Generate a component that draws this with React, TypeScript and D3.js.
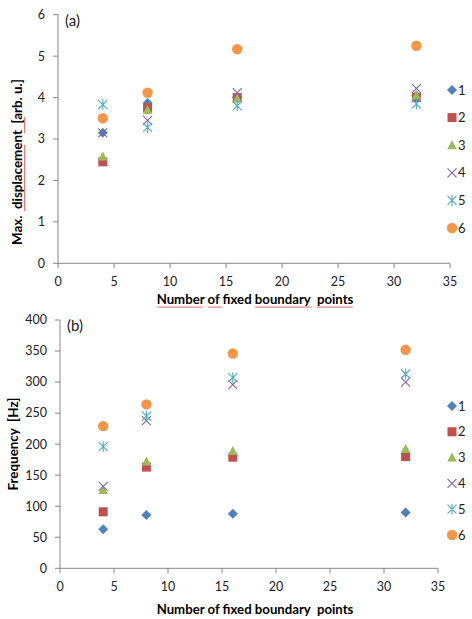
import React, { useEffect, useRef } from 'react';
import * as d3 from 'd3';

// x positions (number of fixed boundary points)
const xValues = [4, 8, 16, 32];
const seriesNames = ['1', '2', '3', '4', '5', '6'];
const seriesColors = ['#4F81BD', '#C0504D', '#9BBB59', '#8064A2', '#4BACC6', '#F79646'];
const seriesShapes = ['diamond', 'square', 'triangle', 'x', 'star', 'circle'];

// (a) max displacement [arb. u.]
const dispS1 = [3.15, 3.87, 4.0, 4.05];
const dispS2 = [2.45, 3.75, 4.0, 4.0];
const dispS3 = [2.58, 3.7, 3.97, 4.05];
const dispS4 = [3.15, 3.45, 4.12, 4.22];
const dispS5 = [3.83, 3.28, 3.8, 3.85];
const dispS6 = [3.5, 4.12, 5.17, 5.25];

// (b) frequency [Hz]
const freqS1 = [63, 86, 88, 90];
const freqS2 = [91, 163, 179, 180];
const freqS3 = [126, 172, 189, 192];
const freqS4 = [132, 238, 296, 300];
const freqS5 = [196, 245, 307, 313];
const freqS6 = [229, 264, 346, 352];

const xTicks = [0, 5, 10, 15, 20, 25, 30, 35];
const dispTicks = [0, 1, 2, 3, 4, 5, 6];
const freqTicks = [0, 50, 100, 150, 200, 250, 300, 350, 400];

const FONT = 'Lato, "Noto Sans", sans-serif';
const AXIS_COLOR = '#868686';

type Panel = {
  label: string;
  yTitle: string;
  series: number[][];
  yTicks: number[];
  yMax: number;
  left: number;
  right: number;
  top: number;
  bottom: number;
  tickY: number;
  titleY: number;
  yTitleX: number;
  yTitleMid: number;
  legendX: number;
  legendTop: number;
  legendStep: number;
  spellMarks: boolean;
};

type G = d3.Selection<SVGGElement, unknown, null, undefined>;

function drawMarker(g: G, shape: string, color: string, cx: number, cy: number) {
  if (shape === 'diamond') {
    const r = 5;
    g.append('path').attr('d', `M${cx},${cy - r}L${cx + r},${cy}L${cx},${cy + r}L${cx - r},${cy}Z`).attr('fill', color);
  } else if (shape === 'square') {
    g.append('rect').attr('x', cx - 4.5).attr('y', cy - 4.5).attr('width', 9).attr('height', 9).attr('fill', color);
  } else if (shape === 'triangle') {
    g.append('path').attr('d', `M${cx},${cy - 5}L${cx + 4.8},${cy + 4}L${cx - 4.8},${cy + 4}Z`).attr('fill', color);
  } else if (shape === 'x') {
    const r = 4.5;
    g.append('path').attr('d', `M${cx - r},${cy - r}L${cx + r},${cy + r}M${cx - r},${cy + r}L${cx + r},${cy - r}`)
      .attr('stroke', color).attr('stroke-width', 1.1).attr('fill', 'none');
  } else if (shape === 'star') {
    const r = 4.5;
    g.append('path').attr('d', `M${cx - r},${cy - r}L${cx + r},${cy + r}M${cx - r},${cy + r}L${cx + r},${cy - r}M${cx},${cy - r - 1}L${cx},${cy + r + 1}`)
      .attr('stroke', color).attr('stroke-width', 1.1).attr('fill', 'none');
  } else {
    g.append('circle').attr('cx', cx).attr('cy', cy).attr('r', 5.2).attr('fill', color);
  }
}

// red spell-check squiggle, horizontal or vertical
function squiggle(g: G, a0: number, a1: number, at: number, vertical = false) {
  let d = vertical ? `M${at},${a0}` : `M${a0},${at}`;
  for (let a = a0; a < a1; a += 2) {
    d += vertical ? `L${at + 1.2},${a + 1}L${at},${a + 2}` : `L${a + 1},${at + 1.2}L${a + 2},${at}`;
  }
  g.append('path').attr('d', d).attr('fill', 'none').attr('stroke', '#e03030').attr('stroke-width', 0.7);
}

function drawPanel(root: d3.Selection<SVGSVGElement, unknown, null, undefined>, p: Panel) {
  const g = root.append('g');
  const x = d3.scaleLinear().domain([0, 35]).range([p.left, p.right]);
  const y = d3.scaleLinear().domain([0, p.yMax]).range([p.bottom, p.top]);

  // axes lines
  g.append('line').attr('x1', p.left).attr('x2', p.left).attr('y1', p.top).attr('y2', p.bottom)
    .attr('stroke', AXIS_COLOR).attr('stroke-width', 1);
  g.append('line').attr('x1', p.left).attr('x2', p.right).attr('y1', p.bottom).attr('y2', p.bottom)
    .attr('stroke', AXIS_COLOR).attr('stroke-width', 1);

  // y ticks
  p.yTicks.forEach(t => {
    g.append('line').attr('x1', p.left - 5).attr('x2', p.left).attr('y1', y(t)).attr('y2', y(t))
      .attr('stroke', AXIS_COLOR);
    g.append('text').attr('x', p.left - 13).attr('y', y(t)).attr('dy', '0.35em')
      .attr('text-anchor', 'end').attr('font-family', FONT).attr('font-size', 12.5).attr('fill', '#222')
      .text(t);
  });

  // x ticks
  xTicks.forEach(t => {
    g.append('line').attr('x1', x(t)).attr('x2', x(t)).attr('y1', p.bottom).attr('y2', p.bottom + 5)
      .attr('stroke', AXIS_COLOR);
    g.append('text').attr('x', x(t)).attr('y', p.tickY).attr('dy', '0.35em')
      .attr('text-anchor', 'middle').attr('font-family', FONT).attr('font-size', 12.5).attr('fill', '#222')
      .text(t);
  });

  // titles
  g.append('text').attr('x', 255).attr('y', p.titleY).attr('dy', '0.35em')
    .attr('text-anchor', 'middle').attr('font-family', FONT).attr('font-size', 13.2).attr('font-weight', 'bold')
    .style('white-space', 'pre')
    .text('Number of fixed boundary  points');
  g.append('text').attr('transform', `translate(${p.yTitleX},${p.yTitleMid}) rotate(-90)`).attr('dy', '0.35em')
    .attr('text-anchor', 'middle').attr('font-family', FONT).attr('font-size', 13.4).attr('font-weight', 'bold')
    .style('white-space', 'pre')
    .text(p.yTitle);

  if (p.spellMarks) {
    const sy = p.titleY + 7;
    squiggle(g, 157, 203, sy);
    squiggle(g, 208, 222, sy);
    squiggle(g, 255, 310, sy);
    squiggle(g, 317, 353, sy);
    squiggle(g, 145, 210, p.yTitleX + 7, true);
    squiggle(g, 117, 132, p.yTitleX + 7, true);
  }

  // panel label
  g.append('text').attr('x', p.left + 7).attr('y', p.top + 6).attr('dy', '0.35em')
    .attr('font-family', FONT).attr('font-size', 15).attr('fill', '#222').text(p.label);

  // points
  p.series.forEach((vals, si) => {
    vals.forEach((v, i) => drawMarker(g, seriesShapes[si], seriesColors[si], x(xValues[i]), y(v)));
  });

  // legend
  seriesNames.forEach((name, si) => {
    const ly = p.legendTop + si * p.legendStep;
    drawMarker(g, seriesShapes[si], seriesColors[si], p.legendX, ly);
    g.append('text').attr('x', p.legendX + 6).attr('y', ly).attr('dy', '0.35em')
      .attr('font-family', FONT).attr('font-size', 13).attr('fill', '#222').text(name);
  });
}

const App: React.FC = () => {
  const svgRef = useRef<SVGSVGElement>(null);

  useEffect(() => {
    if (!svgRef.current) return;
    const svg = d3.select(svgRef.current);
    svg.selectAll('*').remove();
    svg.append('rect').attr('width', 472).attr('height', 619).attr('fill', '#fff');

    drawPanel(svg, {
      label: '(a)', yTitle: 'Max.  displacement  [arb. u.]',
      series: [dispS1, dispS2, dispS3, dispS4, dispS5, dispS6],
      yTicks: dispTicks, yMax: 6,
      left: 58, right: 450, top: 14.7, bottom: 263.3,
      tickY: 282, titleY: 299.5, yTitleX: 17, yTitleMid: 162,
      legendX: 452, legendTop: 90, legendStep: 27.6, spellMarks: true,
    });
    drawPanel(svg, {
      label: '(b)', yTitle: 'Frequency  [Hz]',
      series: [freqS1, freqS2, freqS3, freqS4, freqS5, freqS6],
      yTicks: freqTicks, yMax: 400,
      left: 60, right: 438, top: 320, bottom: 568.3,
      tickY: 587, titleY: 609, yTitleX: 13, yTitleMid: 444,
      legendX: 452, legendTop: 406, legendStep: 25.8, spellMarks: false,
    });
  }, []);

  return (
    <svg ref={svgRef} width={472} height={619} style={{ position: 'absolute', left: 0, top: 0 }} />
  );
};

export default App;
